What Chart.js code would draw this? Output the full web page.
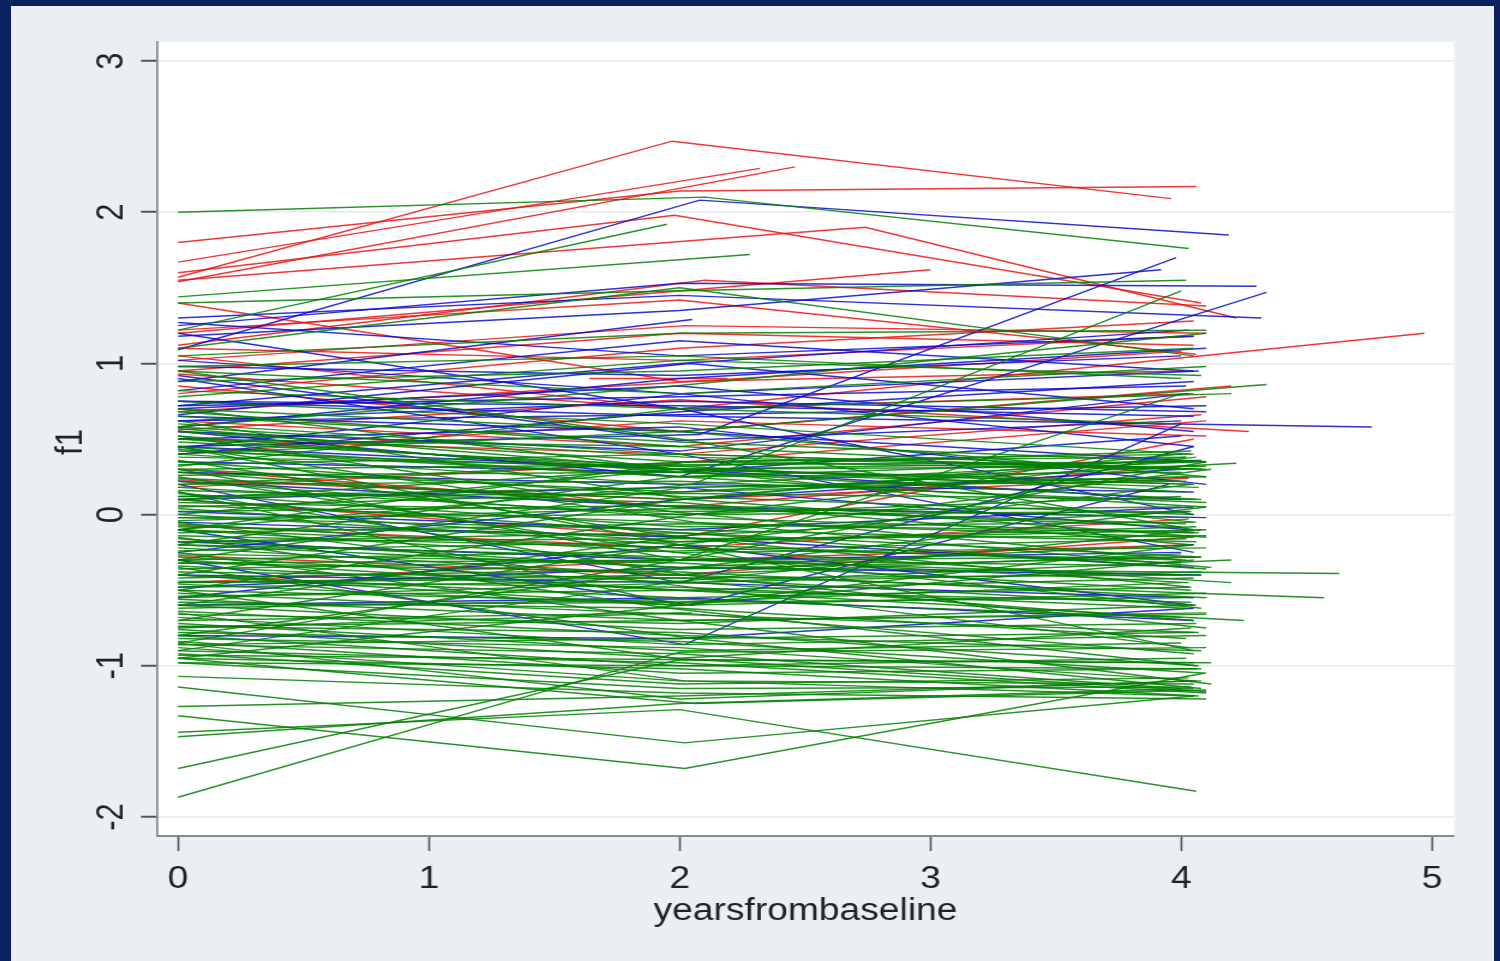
<!DOCTYPE html>
<html>
<head>
<meta charset="utf-8">
<title>f1 by yearsfrombaseline</title>
<script src="https://cdn.jsdelivr.net/npm/chart.js@4.4.1/dist/chart.umd.min.js"></script>
<style>
html, body { margin: 0; padding: 0; width: 1500px; height: 961px; overflow: hidden; background: #0b205e; }
#frame { position: absolute; left: 11px; top: 6px; width: 1483px; height: 955px; background: #e9eff3; overflow: hidden; }
#plot { position: absolute; left: 0; top: 0; transform-origin: 0 0; }
</style>
</head>
<body>
<div id="frame"><canvas id="plot" width="1236" height="955" style="width:1236px;height:955px"></canvas></div>
<script>
// Axis ticks
const xTicks = [0, 1, 2, 3, 4, 5];
const yTicks = [-2, -1, 0, 1, 2, 3];

// One row per subject: t0, y0, t1, y1, t2, y2 ...
const redSubjects = [
    [0, 1.57, 1.97, 2.47, 3.96, 2.09],
    [0, 1.80, 2.0, 2.14, 4.06, 2.17],
    [0, 1.67, 2.32, 2.29],
    [0, 1.54, 2.46, 2.30],
    [0, 1.60, 1.98, 1.98, 4.08, 1.40],
    [0, 1.55, 2.74, 1.90, 4.22, 1.30],
    [0, 1.40, 2.0, 0.88, 4.0, 0.95],
    [0, 1.05, 2.0, 0.70, 4.97, 1.20],
    [0, 1.20, 3.0, 1.62],
    [0, 1.22, 2.0, 1.42, 4.06, 1.06],
    [0, 1.02, 2.02, 1.25, 4.1, 1.20],
    [1.64, 0.90, 2.19, 0.90],
    [0, 0.80, 2.0, 1.10, 4.05, 1.28],
    [0, 0.93, 2.0, 0.70, 4.05, 0.80],
    [0, 0.56, 2.0, 0.76, 4.27, 0.55],
    [0, 0.50, 2.0, 0.40, 4.08, 0.66],
    [0, 0.18, 2.05, 0.35, 4.1, 0.62],
    [0, -0.07, 2.0, -0.22, 4.03, -0.03],
    [0, 0.23, 2.0, 0.10, 4.03, 0.24],
    [0, -0.27, 1.98, -0.40, 4.03, -0.15],
    [0, 0.30, 2.0, 0.05, 4.0, 0.32],
    [0, 1.10, 2.0, 1.02, 4.05, 1.18],
    [0, 0.68, 2.05, 0.88, 4.0, 1.08],
    [0, 1.12, 2.1, 1.55, 4.1, 1.38],
    [0, 0.62, 2.0, 0.45, 4.1, 0.78],
    [0, -0.45, 2.0, -0.30, 4.05, -0.20],
    [0, 0.40, 2.0, 0.62, 4.1, 0.52],
    [0, 0.95, 2.0, 1.20, 4.05, 1.12],
    [0, 0.10, 2.0, -0.15, 4.05, 0.50],
    [0, 0.85, 2.0, 0.55, 4.2, 0.85]
];

const blueSubjects = [
    [0, 1.09, 2.08, 2.08, 4.19, 1.85],
    [0, 0.88, 2.05, 1.29],
    [0, 0.45, 2.08, 0.53, 3.98, 1.70],
    [0, 0.55, 2.0, 0.25, 4.34, 1.47],
    [0, 1.25, 2.0, 1.53, 4.3, 1.51],
    [0, 1.30, 2.0, 1.45, 4.32, 1.30],
    [0, 1.27, 2.0, 1.05, 4.05, 1.18],
    [0, 0.75, 2.02, 0.65, 4.76, 0.58],
    [0, -0.30, 2.02, -0.86, 4.0, 0.60],
    [0, -0.80, 2.0, -0.82, 4.05, -0.62],
    [0, 0.92, 2.0, 0.49, 4.0, 0.62],
    [0, 0.70, 2.0, 0.85, 4.05, 0.55],
    [0, 0.62, 2.0, 0.75, 4.1, 0.68],
    [0, 0.55, 2.0, 0.42, 4.03, 0.80],
    [0, 0.28, 2.0, 0.20, 4.05, 0.15],
    [0, 0.22, 2.0, 0.05, 4.1, -0.02],
    [0, 0.10, 2.0, 0.18, 4.03, -0.10],
    [0, -0.05, 2.0, -0.15, 4.05, -0.35],
    [0, -0.18, 2.0, -0.30, 4.0, -0.25],
    [0, -0.40, 2.0, -0.45, 4.05, -0.55],
    [0, -0.48, 2.0, -0.35, 4.08, -0.40],
    [0, 0.35, 2.0, 0.28, 4.0, 0.52],
    [0, 0.82, 2.0, 1.15, 4.05, 0.95],
    [0, 1.18, 2.0, 1.35, 3.92, 1.62],
    [0, 0.98, 2.0, 0.92, 4.0, 1.05],
    [0, 0.65, 2.0, 0.55, 4.1, 0.35],
    [0, 0.45, 2.0, 0.30, 4.0, 0.10],
    [0, 0.02, 2.0, -0.10, 4.05, 0.05],
    [0, -0.60, 2.0, -0.55, 4.05, -0.70],
    [0, 0.40, 2.0, 0.68, 4.05, 0.88],
    [0, 1.02, 2.0, 0.80, 4.05, 0.45],
    [0, 0.72, 2.0, 1.00, 4.03, 1.22],
    [0, 0.50, 2.0, 0.58, 4.1, 0.20],
    [0, -0.25, 2.0, 0.10, 4.0, 0.30],
    [0, 0.72, 2.0, 0.78, 4.02, 0.85],
    [0, 0.62, 2.0, 0.66, 4.1, 0.72],
    [0, 0.44, 2.02, 0.80, 4.07, 0.95],
    [0, 0.66, 2.04, 1.00, 4.05, 0.70],
    [0, 0.75, 2.0, 0.72, 4.05, 0.65],
    [0, 0.20, 2.0, -0.45, 4.05, 0.45],
    [0, -0.10, 2.05, -0.60, 3.95, 0.20],
    [0, 1.20, 2.0, 0.70, 4.05, 0.00],
    [0, 0.90, 2.0, 0.40, 4.05, -0.25],
    [0, 0.58, 2.0, 0.90, 4.1, 1.10],
    [0, -0.55, 2.0, -0.20, 4.05, -0.60]
];

const greenSubjects = [
    [0, 2.00, 2.1, 2.10, 4.03, 1.76],
    [0, 1.44, 2.28, 1.72],
    [0, 1.22, 1.95, 1.92],
    [0, 1.10, 2.0, 1.50, 4.05, 1.05],
    [0, 1.05, 2.0, 1.20, 4.1, 1.22],
    [0, 0.98, 2.0, 1.05, 4.0, 0.90],
    [0, 0.95, 2.0, 0.80, 4.1, 0.98],
    [0, 1.40, 2.0, 1.48, 4.02, 1.55],
    [0, 0.40, 2.0, 0.55, 4.34, 0.86],
    [0, -0.10, 2.05, 0.20, 4.0, 1.48],
    [0, 0.88, 2.0, 0.95, 4.05, 1.10],
    [0, 0.82, 2.0, 0.70, 4.0, 0.60],
    [0, 0.78, 2.0, 1.02, 4.08, 0.92],
    [0, 0.75, 2.0, 0.60, 4.05, 0.40],
    [0, 0.70, 2.0, 0.55, 4.1, 0.25],
    [0, 0.68, 2.0, 0.45, 4.0, 0.30],
    [0, 0.65, 2.0, 0.48, 4.05, 0.35],
    [0, 0.60, 2.0, 0.40, 4.03, 0.30],
    [0, 0.57, 2.0, 0.30, 4.05, 0.20],
    [0, 0.55, 2.0, 0.35, 4.02, 0.38],
    [0, 0.52, 2.0, 0.28, 4.08, 0.10],
    [0, 0.50, 2.0, 0.30, 4.0, 0.22],
    [0, 0.48, 2.0, 0.32, 4.04, 0.42],
    [0, 0.45, 2.0, 0.25, 4.1, 0.05],
    [0, 0.43, 2.0, 0.25, 4.0, 0.28],
    [0, 0.40, 2.0, 0.20, 4.06, 0.35],
    [0, 0.38, 2.0, 0.32, 4.02, 0.15],
    [0, 0.35, 2.0, 0.12, 4.05, 0.00],
    [0, 0.33, 2.0, 0.40, 4.1, 0.30],
    [0, 0.30, 2.0, 0.15, 4.03, 0.25],
    [0, 0.28, 2.0, 0.05, 4.0, -0.08],
    [0, 0.26, 2.0, 0.28, 4.07, 0.18],
    [0, 0.24, 2.0, 0.10, 4.02, 0.38],
    [0, 0.22, 2.0, -0.02, 4.05, -0.12],
    [0, 0.20, 2.0, 0.22, 4.1, 0.08],
    [0, 0.18, 2.0, 0.00, 4.0, 0.12],
    [0, 0.16, 2.0, 0.08, 4.04, -0.20],
    [0, 0.14, 2.0, -0.08, 4.06, -0.05],
    [0, 0.12, 2.0, 0.18, 4.02, 0.22],
    [0, 0.10, 2.0, -0.12, 4.08, -0.28],
    [0, 0.08, 2.0, 0.02, 4.0, 0.05],
    [0, 0.06, 2.0, -0.05, 4.05, -0.15],
    [0, 0.04, 2.0, -0.18, 4.1, -0.10],
    [0, 0.02, 2.0, 0.06, 4.03, -0.02],
    [0, 0.00, 2.0, -0.20, 4.0, -0.32],
    [0, -0.02, 2.0, -0.10, 4.06, -0.18],
    [0, -0.04, 2.0, 0.04, 4.02, -0.06],
    [0, -0.06, 2.0, -0.25, 4.1, -0.22],
    [0, -0.08, 2.0, -0.14, 4.04, 0.02],
    [0, -0.10, 2.0, -0.30, 4.0, -0.40],
    [0, -0.12, 2.0, -0.06, 4.07, -0.12],
    [0, -0.14, 2.0, -0.22, 4.02, -0.30],
    [0, -0.16, 2.0, -0.35, 4.05, -0.20],
    [0, -0.18, 2.0, -0.12, 4.1, -0.36],
    [0, -0.20, 2.0, -0.28, 4.03, -0.45],
    [0, -0.22, 2.0, -0.40, 4.0, -0.26],
    [0, -0.24, 2.0, -0.18, 4.06, -0.08],
    [0, -0.26, 2.0, -0.32, 4.04, -0.50],
    [0, -0.28, 2.0, -0.45, 4.08, -0.38],
    [0, -0.30, 2.0, -0.24, 4.02, -0.16],
    [0, -0.32, 2.0, -0.38, 4.1, -0.55],
    [0, -0.34, 2.0, -0.50, 4.05, -0.42],
    [0, -0.36, 2.0, -0.30, 4.0, -0.34],
    [0, -0.38, 2.0, -0.42, 4.06, -0.60],
    [0, -0.40, 2.0, -0.55, 4.03, -0.48],
    [0, -0.42, 2.0, -0.36, 4.08, -0.28],
    [0, -0.44, 2.0, -0.48, 4.02, -0.62],
    [0, -0.46, 2.0, -0.60, 4.1, -0.52],
    [0, -0.48, 2.0, -0.44, 4.05, -0.70],
    [0, -0.50, 2.0, -0.58, 4.0, -0.45],
    [0, -0.52, 2.0, -0.66, 4.07, -0.78],
    [0, -0.54, 2.0, -0.50, 4.04, -0.58],
    [0, -0.56, 2.0, -0.70, 4.1, -0.65],
    [0, -0.58, 2.0, -0.62, 4.02, -0.82],
    [0, -0.60, 2.0, -0.76, 4.06, -0.72],
    [0, -0.62, 2.0, -0.56, 4.0, -0.68],
    [0, -0.64, 2.0, -0.80, 4.08, -0.90],
    [0, -0.66, 2.0, -0.72, 4.03, -0.60],
    [0, -0.68, 2.0, -0.86, 4.1, -0.80],
    [0, -0.70, 2.0, -0.65, 4.05, -0.92],
    [0, -0.72, 2.0, -0.90, 4.0, -0.85],
    [0, -0.74, 2.0, -0.78, 4.07, -1.00],
    [0, -0.76, 2.0, -0.95, 4.04, -0.75],
    [0, -0.78, 2.0, -0.84, 4.1, -1.05],
    [0, -0.80, 2.0, -1.00, 4.02, -0.95],
    [0, -0.82, 2.0, -0.88, 4.06, -1.10],
    [0, -0.84, 2.0, -1.05, 4.08, -1.02],
    [0, -0.86, 2.0, -0.92, 4.0, -1.15],
    [0, -0.88, 2.0, -1.10, 4.05, -1.12],
    [0, -0.90, 2.0, -0.98, 4.1, -1.18],
    [0, -0.92, 2.0, -1.12, 4.03, -1.08],
    [0, -0.95, 2.0, -1.02, 4.07, -1.20],
    [0, -0.98, 2.0, -1.15, 4.04, -1.14],
    [0, -1.07, 2.0, -1.18, 4.1, -1.22],
    [0, -1.14, 2.02, -1.51, 4.05, -1.20],
    [0, -1.33, 2.02, -1.68, 4.09, -1.05],
    [0, -1.27, 2.0, -1.20, 4.08, -1.10],
    [0, -1.44, 2.0, -1.29, 4.06, -1.83],
    [0, -1.47, 2.0, -1.25, 4.05, -1.15],
    [0, -1.68, 2.0, -0.96, 4.05, -0.98],
    [0, -1.87, 2.0, -0.91, 4.1, -0.88],
    [0, -0.20, 2.0, -0.35, 4.63, -0.39],
    [0, -0.45, 2.0, -0.40, 4.57, -0.55],
    [0, -0.30, 2.0, -0.50, 4.25, -0.70],
    [0, 0.05, 2.0, 0.15, 4.22, 0.34],
    [0, -0.55, 2.05, -0.45, 4.2, -0.30],
    [0, -0.10, 2.0, -0.22, 4.2, -0.45],
    [0, 0.70, 1.98, 0.30, 4.05, -0.05],
    [0, 0.62, 2.04, 0.10, 4.1, -0.15],
    [0, 0.52, 1.96, 0.02, 4.0, -0.30],
    [0, 0.45, 2.06, -0.05, 4.12, -0.35],
    [0, 0.36, 2.0, -0.15, 4.04, -0.48],
    [0, 0.25, 1.98, -0.25, 4.08, -0.62],
    [0, 0.15, 2.02, -0.40, 4.1, -0.75],
    [0, -0.05, 2.04, -0.48, 4.03, -0.88],
    [0, -0.15, 1.96, -0.62, 4.06, -1.00],
    [0, -0.25, 2.0, -0.70, 4.12, -1.12],
    [0, -0.35, 2.05, -0.82, 4.08, -1.15],
    [0, -0.50, 1.98, -0.95, 4.1, -1.17],
    [0, -0.65, 2.02, -1.10, 4.05, -1.20],
    [0, -0.85, 2.0, -1.22, 4.04, -1.10],
    [0, -0.95, 2.06, -1.25, 4.1, -1.16],
    [0, -0.95, 2.0, -0.60, 4.05, -0.30],
    [0, -0.90, 1.96, -0.45, 4.08, -0.10],
    [0, -0.80, 2.04, -0.35, 4.1, 0.05],
    [0, -0.70, 2.0, -0.20, 4.04, 0.20],
    [0, -0.60, 1.98, -0.15, 4.12, 0.30],
    [0, -0.50, 2.06, 0.00, 4.06, 0.38],
    [0, -0.40, 2.0, 0.10, 4.0, 0.40],
    [0, -0.30, 2.02, 0.18, 4.1, 0.25],
    [0, -0.20, 1.98, 0.25, 4.08, 0.36],
    [0, -0.10, 2.04, 0.35, 4.02, 0.30],
    [0, 0.00, 2.0, 0.30, 4.05, 0.20],
    [0, 0.10, 1.96, 0.30, 4.1, 0.32],
    [0, 0.20, 2.06, 0.35, 4.04, 0.40],
    [0, 0.32, 2.0, 0.70, 4.2, 0.80],
    [0, 0.58, 1.98, 0.85, 4.1, 1.20],
    [0, 0.58, 2.02, 0.38, 4.08, 0.30],
    [0, 0.42, 1.98, 0.30, 4.0, 0.35],
    [0, 0.30, 2.0, 0.33, 4.1, 0.35],
    [0, 0.12, 2.04, 0.14, 4.06, 0.10],
    [0, -0.02, 2.0, 0.00, 4.03, 0.02],
    [0, -0.18, 1.96, -0.16, 4.1, -0.14],
    [0, -0.32, 2.06, -0.30, 4.05, -0.28],
    [0, -0.45, 2.0, -0.42, 4.08, -0.40],
    [0, -0.60, 2.02, -0.58, 4.0, -0.55],
    [0, -0.74, 1.98, -0.70, 4.1, -0.66],
    [0, -0.86, 2.0, -0.82, 4.05, -0.78],
    [0, -0.93, 2.04, -0.96, 4.12, -0.98],
    [0, -0.98, 2.0, -1.00, 4.06, -1.02],
    [0, 0.50, 2.0, 0.45],
    [0, -0.40, 2.0, -0.60],
    [0, -0.75, 2.05, -0.65],
    [0, 0.95, 2.0, 0.50, 4.05, -0.10],
    [0, 0.30, 2.0, -0.30, 4.0, 0.80],
    [0, 0.45, 2.0, -0.20, 4.05, -0.90],
    [0, -0.85, 2.0, -0.30, 4.1, 0.35],
    [0, 0.15, 2.0, -0.60, 4.05, -0.20]
];

// Page geometry: canvas is stretched horizontally like the original export
const STRETCH = 1483 / 1236;
const plotCanvas = document.getElementById("plot");
plotCanvas.style.transform = `scaleX(${STRETCH})`;

const FONT = '"Liberation Sans", Arial, sans-serif';
const TEXT_COLOR = "#222222";

// Build one line dataset per subject
const datasets = [];
function addGroup(rows, color) {
    rows.forEach((row) => {
        const points = [];
        for (let i = 0; i < row.length; i += 2) {
            points.push({ x: row[i], y: row[i + 1] });
        }
        datasets.push({
            data: points,
            borderColor: color,
            borderWidth: 1.45,
            pointRadius: 0,
            showLine: true,
            fill: false,
            tension: 0,
        });
    });
}
addGroup(greenSubjects, "rgba(0, 128, 0, 0.85)");
addGroup(blueSubjects, "rgba(10, 10, 210, 0.85)");
addGroup(redSubjects, "rgba(235, 20, 20, 0.85)");

// White plot region
const plotBackground = {
    id: "plotBackground",
    beforeDraw(chart) {
        const { ctx, chartArea } = chart;
        ctx.save();
        ctx.fillStyle = "#ffffff";
        ctx.fillRect(chartArea.left, chartArea.top, chartArea.right - chartArea.left, chartArea.bottom - chartArea.top);
        ctx.restore();
    },
};

// Stata-style axis text: rotated y labels, titles
const axisText = {
    id: "axisText",
    afterDraw(chart) {
        const { ctx, chartArea } = chart;
        const xScale = chart.scales.x;
        const yScale = chart.scales.y;
        ctx.save();
        ctx.fillStyle = TEXT_COLOR;
        ctx.font = `31px ${FONT}`;

        // x tick labels
        ctx.textAlign = "center";
        ctx.textBaseline = "alphabetic";
        xTicks.forEach((v) => {
            ctx.fillText(String(v), xScale.getPixelForValue(v), 882);
        });

        // x title
        ctx.fillText("yearsfrombaseline", (chartArea.left + chartArea.right) / 2, 914);

        // y tick labels, reading bottom to top
        yTicks.forEach((v) => {
            ctx.save();
            ctx.translate(92.5, yScale.getPixelForValue(v));
            ctx.rotate(-Math.PI / 2);
            ctx.fillText(String(v), 0, 0);
            ctx.restore();
        });

        // y title
        ctx.save();
        ctx.translate(59, (chartArea.top + chartArea.bottom) / 2 + 3);
        ctx.rotate(-Math.PI / 2);
        ctx.fillText("f1", 0, 0);
        ctx.restore();

        ctx.restore();
    },
};

new Chart(plotCanvas.getContext("2d"), {
    type: "scatter",
    data: { datasets },
    options: {
        responsive: false,
        devicePixelRatio: 1,
        animation: false,
        layout: { padding: { left: 0, right: 1236 - 1443 / STRETCH, top: 36, bottom: 0 } },
        plugins: {
            legend: { display: false },
            tooltip: { enabled: false },
        },
        scales: {
            x: {
                type: "linear",
                min: -0.084,
                max: 5.088,
                afterBuildTicks: (scale) => { scale.ticks = xTicks.map((v) => ({ value: v })); },
                afterFit: (scale) => { scale.height = 125; },
                ticks: { display: false },
                grid: {
                    drawOnChartArea: false,
                    drawTicks: true,
                    tickLength: 15,
                    tickColor: "#555555",
                    tickWidth: 1.6,
                },
                border: { display: true, color: "#8a8a8a", width: 2 },
            },
            y: {
                type: "linear",
                min: -2.126,
                max: 3.126,
                afterBuildTicks: (scale) => { scale.ticks = yTicks.map((v) => ({ value: v })); },
                afterFit: (scale) => { scale.width = 146 / STRETCH; },
                ticks: { display: false },
                grid: {
                    color: "#e6ebee",
                    lineWidth: 1.5,
                    drawTicks: true,
                    tickLength: 16 / STRETCH,
                    tickColor: "#555555",
                    tickWidth: 2,
                },
                border: { display: true, color: "#8a8a8a", width: 1.7 },
            },
        },
    },
    plugins: [plotBackground, axisText],
});
</script>
</body>
</html>
